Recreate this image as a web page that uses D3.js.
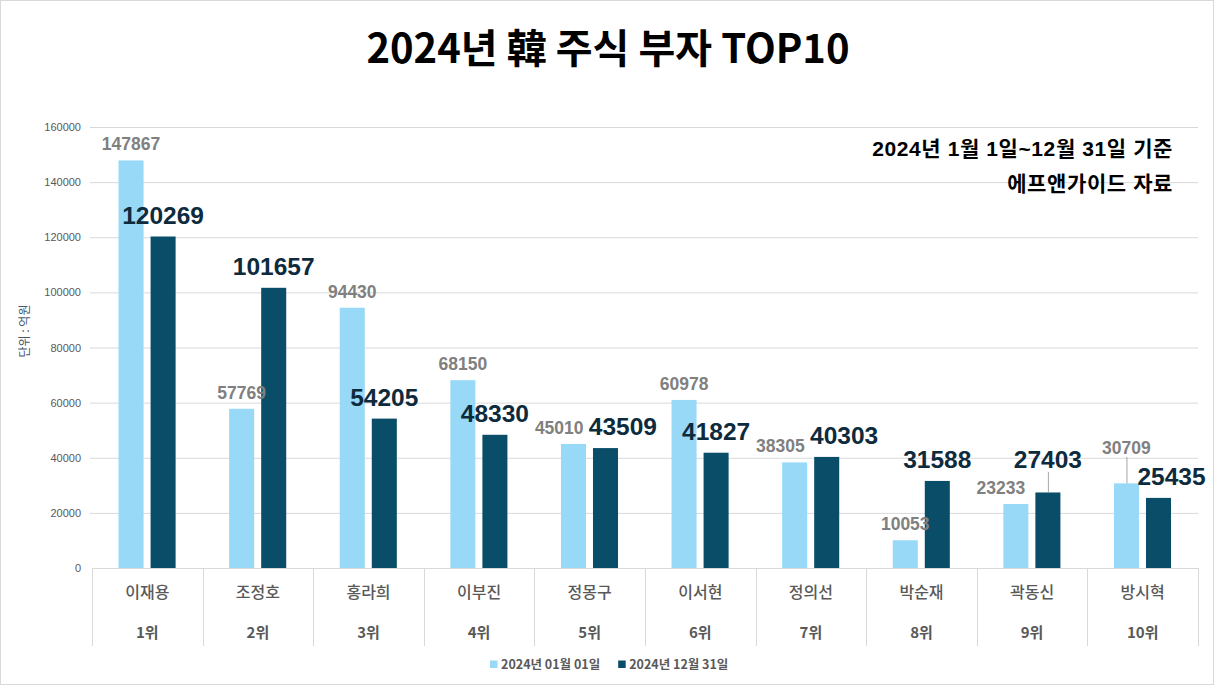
<!DOCTYPE html>
<html><head><meta charset="utf-8">
<script src="https://cdn.jsdelivr.net/npm/d3@7"></script>
<style>
html,body{margin:0;padding:0;background:#fff;}
svg{display:block;}
</style></head>
<body>
<svg id="chart" width="1214" height="685"></svg>
<script>
const names = ["이재용","조정호","홍라희","이부진","정몽구","이서현","정의선","박순재","곽동신","방시혁"];
const ranks = ["1위","2위","3위","4위","5위","6위","7위","8위","9위","10위"];
const seriesNames = ["2024년 01월 01일","2024년 12월 31일"];
const jan = [147867,57769,94430,68150,45010,60978,38305,10053,23233,30709];
const dec = [120269,101657,54205,48330,43509,41827,40303,31588,27403,25435];
const yTicks = [0,20000,40000,60000,80000,100000,120000,140000,160000];

const W = 1214, H = 685;
const m = {left:92, right:16, top:127, bottom:117};
const colors = ["#97d9f6","#0a4d68"];
const svg = d3.select("#chart");

svg.append("rect").attr("x",0.5).attr("y",0.5).attr("width",W-1).attr("height",H-1)
  .attr("fill","#fff").attr("stroke","#d9d9d9");

const x0 = d3.scaleBand().domain(names).range([m.left, W-m.right]).padding(0);
const bw = x0.bandwidth();
const x1 = d3.scaleBand().domain([0,1]).range([bw*0.24, bw*0.756]).paddingInner(0.21875);
const y = d3.scaleLinear().domain([0,160000]).range([H-m.bottom, m.top]);

// gridlines
svg.append("g").selectAll("line").data(yTicks.slice(1)).join("line")
  .attr("x1",m.left-2).attr("x2",W-m.right)
  .attr("y1",d=>y(d)+0.5).attr("y2",d=>y(d)+0.5)
  .attr("stroke","#d9d9d9").attr("stroke-width",1);

// y axis labels
const yAxis = d3.axisLeft(y).tickValues(yTicks).tickSize(0).tickPadding(11).tickFormat(d3.format("d"));
const ga = svg.append("g").attr("transform",`translate(${m.left},0)`).call(yAxis);
ga.select(".domain").remove();
ga.selectAll("text").attr("font-family","Liberation Sans, Arial, sans-serif")
  .attr("font-size",11).attr("fill","#595959");

// y title
svg.append("text").attr("transform","translate(29,331) rotate(-90)")
  .attr("text-anchor","middle").attr("font-family","Noto Sans CJK KR")
  .attr("font-size",12).attr("fill","#44546a").text("단위 : 억원");

// bars
const data = names.map((n,i)=>({name:n, vals:[jan[i],dec[i]]}));
const groups = svg.append("g").selectAll("g").data(data).join("g")
  .attr("transform",d=>`translate(${x0(d.name)},0)`);
groups.selectAll("rect").data(d=>d.vals.map((v,k)=>({v,k}))).join("rect")
  .attr("x",d=>x1(d.k)).attr("width",x1.bandwidth())
  .attr("y",d=>y(d.v)).attr("height",d=>y(0)-y(d.v))
  .attr("fill",d=>colors[d.k]);

// category axis (table style)
const baseY = y(0);
svg.append("line").attr("x1",m.left).attr("x2",W-m.right).attr("y1",baseY+0.5).attr("y2",baseY+0.5)
  .attr("stroke","#d9d9d9");
const seps = names.map(n=>x0(n)).concat([x0(names[names.length-1])+bw]);
svg.append("g").selectAll("line").data(seps).join("line")
  .attr("x1",d=>Math.round(d)+0.5).attr("x2",d=>Math.round(d)+0.5)
  .attr("y1",baseY).attr("y2",baseY+78).attr("stroke","#d9d9d9");
svg.append("g").selectAll("text").data(names).join("text")
  .attr("x",d=>x0(d)+bw/2).attr("y",baseY+30)
  .attr("text-anchor","middle").attr("font-family","Noto Sans CJK KR").attr("font-weight",500)
  .attr("font-size",16).attr("fill","#595959").text(d=>d);
svg.append("g").selectAll("text").data(ranks).join("text")
  .attr("x",(d,i)=>x0(names[i])+bw/2).attr("y",baseY+70)
  .attr("text-anchor","middle").attr("font-family","Noto Sans CJK KR").attr("font-weight","bold")
  .attr("font-size",15).attr("fill","#595959").text(d=>d);

// data labels with simple collision avoidance
const leadG = svg.append("g");
const lblG = svg.append("g");
data.forEach((d,i)=>{
  const cx = [0,1].map(k=>x0(d.name)+x1(k)+x1.bandwidth()/2);
  const top = d.vals.map(v=>y(v));
  const t = [
    lblG.append("text").attr("text-anchor","middle")
      .attr("font-family","Liberation Sans, Arial, sans-serif").attr("font-size",17.5).attr("font-weight","bold")
      .attr("fill","#808080").attr("x",cx[0]).attr("y",top[0]-10).text(d.vals[0]),
    lblG.append("text").attr("text-anchor","middle")
      .attr("font-family","Liberation Sans, Arial, sans-serif").attr("font-size",24.5).attr("font-weight","bold")
      .attr("fill","#0d2b3d").attr("x",cx[1]).attr("y",top[1]-13).text(d.vals[1])
  ];
  const b = t.map(e=>e.node().getBBox());
  const vOverlap = b[0].y < b[1].y+b[1].height && b[1].y < b[0].y+b[0].height;
  const hOverlap = b[0].x+b[0].width + 5 - b[1].x;
  if (!(vOverlap && hOverlap > 0)) return;
  if (Math.abs(top[0]-top[1]) < 8) {
    // split horizontally
    const s1 = hOverlap*0.55, s0 = hOverlap - s1;
    t[0].attr("x",cx[0]-s0); t[1].attr("x",cx[1]+s1);
  } else {
    // raise the label of the taller bar, nudge the other sideways
    const hi = top[0] < top[1] ? 0 : 1, lo = 1-hi;
    const raise = (b[hi].y+b[hi].height) - b[lo].y + 5;
    const newY = +t[hi].attr("y") - raise;
    t[hi].attr("y", newY);
    t[lo].attr("x", cx[lo] + (lo===0 ? -15 : 13));
    const nb = t[hi].node().getBBox();
    leadG.append("line").attr("x1",cx[hi]+0.5).attr("x2",cx[hi]+0.5)
      .attr("y1",nb.y+nb.height-1).attr("y2",top[hi])
      .attr("stroke","#a6a6a6").attr("stroke-width",1);
  }
});

// title
svg.append("text").attr("x",W/2+1).attr("y",63).attr("text-anchor","middle")
  .attr("font-family","Noto Sans CJK KR").attr("font-weight","bold").attr("font-size",40)
  .attr("fill","#000").text("2024년 韓 주식 부자 TOP10");

// annotation
const annFont = "Liberation Sans, Noto Sans CJK KR, sans-serif";
svg.append("text").attr("x",1173).attr("y",156).attr("text-anchor","end")
  .attr("font-family",annFont).attr("font-weight","bold").attr("font-size",21)
  .attr("letter-spacing",0.6).attr("fill","#000").text("2024년 1월 1일~12월 31일 기준");
svg.append("text").attr("x",1173).attr("y",191).attr("text-anchor","end")
  .attr("font-family",annFont).attr("font-weight","bold").attr("font-size",21)
  .attr("letter-spacing",0.6).attr("fill","#000").text("에프앤가이드 자료");

// legend
const leg = svg.append("g").attr("transform","translate(490,660)");
let lx = 0;
seriesNames.forEach((s,k)=>{
  leg.append("rect").attr("x",lx).attr("y",0.5).attr("width",7.5).attr("height",7.5).attr("fill",colors[k]);
  const t = leg.append("text").attr("x",lx+11).attr("y",9)
    .attr("font-family","Noto Sans CJK KR").attr("font-weight","bold").attr("font-size",12.5)
    .attr("fill","#595959").text(s);
  lx += 11 + t.node().getComputedTextLength() + 18;
});
</script>
</body></html>
